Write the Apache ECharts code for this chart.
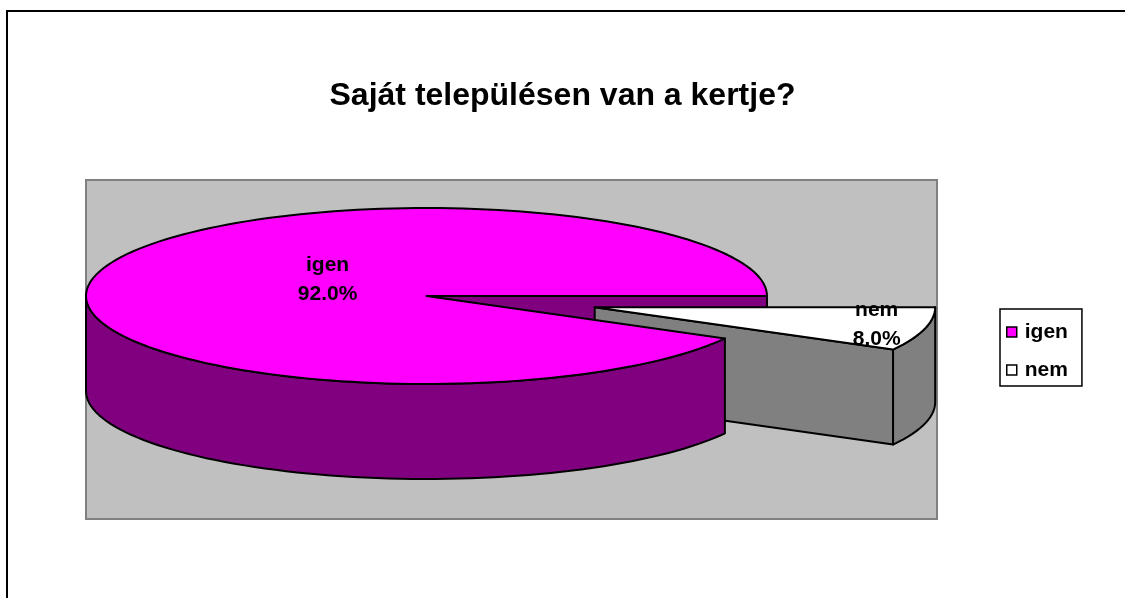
<!DOCTYPE html>
<html>
<head>
<meta charset="utf-8">
<title>Saját településen van a kertje?</title>
<script src="https://cdn.jsdelivr.net/npm/echarts@6/dist/echarts.min.js"></script>
<style>
  html, body { margin: 0; padding: 0; background: #fff; }
  #chart { width: 1125px; height: 598px; }
</style>
</head>
<body>
<div id="chart"></div>
<script>
// adatok
const categories = ['igen', 'nem'];
const values = [92.0, 8.0];
const topColors = ['#FF00FF', '#FFFFFF'];
const sideColors = ['#800080', '#808080'];
const explode = [0, 0.51];

// a 3D pite elrendezese
const cx = 426.5, cy = 296, rx = 340.5, ry = 88, depth = 95;
const firstAngle = 28.8;
const labelScale = [[0.3, 0.73], [0.855, 0.8]];
const font = '"Liberation Sans", Arial, sans-serif';

const total = values.reduce((a, b) => a + b, 0);

function slice(i) {
  let before = 0;
  for (let k = 0; k < i; k++) before += values[k];
  const a0 = firstAngle + before / total * 360;
  const a1 = a0 + values[i] / total * 360;
  const mid = (a0 + a1) / 2 * Math.PI / 180;
  return {
    a0: a0, a1: a1, mid: mid,
    x: cx + explode[i] * rx * Math.cos(mid),
    y: cy + explode[i] * ry * Math.sin(mid)
  };
}

function pt(s, deg, dz) {
  const r = deg * Math.PI / 180;
  return [s.x + rx * Math.cos(r), s.y + ry * Math.sin(r) + (dz || 0)];
}

function arc(s, from, to, dz) {
  const pts = [];
  const n = Math.max(2, Math.ceil(Math.abs(to - from) / 2));
  for (let j = 0; j <= n; j++) pts.push(pt(s, from + (to - from) * j / n, dz));
  return pts;
}

function face(points, fill, z2) {
  return {
    type: 'polygon', z2: z2,
    shape: { points: points },
    style: { fill: fill, stroke: '#000', lineWidth: 2, lineJoin: 'round' }
  };
}

function radial(s, deg, fill) {
  const c = [s.x, s.y], p = pt(s, deg);
  const front = (c[1] + p[1]) / 2;
  return face([c, p, [p[0], p[1] + depth], [c[0], c[1] + depth]], fill, 10 + front / 1000);
}

function renderSlice(params, api) {
  const i = params.seriesIndex;
  const s = slice(i);
  const children = [];
  // vagott oldallapok, csak ami elore nez
  if (Math.cos(s.a0 * Math.PI / 180) < 0) children.push(radial(s, s.a0, sideColors[i]));
  if (Math.cos(s.a1 * Math.PI / 180) > 0) children.push(radial(s, s.a1, sideColors[i]));
  // palast (0..180 fok latszik)
  [[0, 180], [360, 540]].forEach(function (r) {
    const from = Math.max(s.a0, r[0]), to = Math.min(s.a1, r[1]);
    if (to > from) {
      children.push(face(arc(s, from, to, 0).concat(arc(s, to, from, depth)), sideColors[i], 20));
    }
  });
  // teteje
  children.push(face([[s.x, s.y]].concat(arc(s, s.a0, s.a1, 0)), topColors[i], 30));
  // felirat
  children.push({
    type: 'text', z2: 40,
    style: {
      x: s.x + labelScale[i][0] * rx * Math.cos(s.mid),
      y: s.y + labelScale[i][1] * ry * Math.sin(s.mid),
      text: categories[i] + '\n' + (values[i] / total * 100).toFixed(1) + '%',
      align: 'center',
      verticalAlign: 'middle',
      fill: '#000',
      font: 'bold 21px ' + font,
      lineHeight: 29
    }
  });
  return { type: 'group', children: children };
}

let myChart = echarts.init(document.getElementById('chart'));
let option = {
  animation: false,
  backgroundColor: '#fff',
  title: {
    text: 'Saját településen van a kertje?',
    left: 'center',
    top: 80,
    padding: 0,
    textStyle: { fontFamily: font, fontWeight: 'bold', fontSize: 32, color: '#000' }
  },
  legend: {
    orient: 'vertical',
    left: 1000,
    top: 309,
    data: categories,
    icon: 'rect',
    itemWidth: 10,
    itemHeight: 10,
    itemGap: 16,
    padding: [12, 14, 5, 6],
    borderColor: '#000',
    borderWidth: 1.5,
    selectedMode: false,
    itemStyle: { borderColor: '#000', borderWidth: 1.5 },
    textStyle: { fontFamily: font, fontWeight: 'bold', fontSize: 21, color: '#000', lineHeight: 22, padding: [0, 0, 0, 3] }
  },
  graphic: [
    {
      type: 'rect', z: -10,
      shape: { x: 7, y: 11, width: 1130, height: 600 },
      style: { fill: 'none', stroke: '#000', lineWidth: 2 }
    },
    {
      type: 'rect', z: -5,
      shape: { x: 86, y: 180, width: 851, height: 339 },
      style: { fill: '#C0C0C0', stroke: '#808080', lineWidth: 2 }
    }
  ],
  series: categories.map(function (name, i) {
    return {
      type: 'custom',
      name: name,
      coordinateSystem: 'none',
      silent: true,
      itemStyle: { color: topColors[i] },
      data: [[values[i]]],
      renderItem: renderSlice
    };
  })
};
myChart.setOption(option);
</script>
</body>
</html>
